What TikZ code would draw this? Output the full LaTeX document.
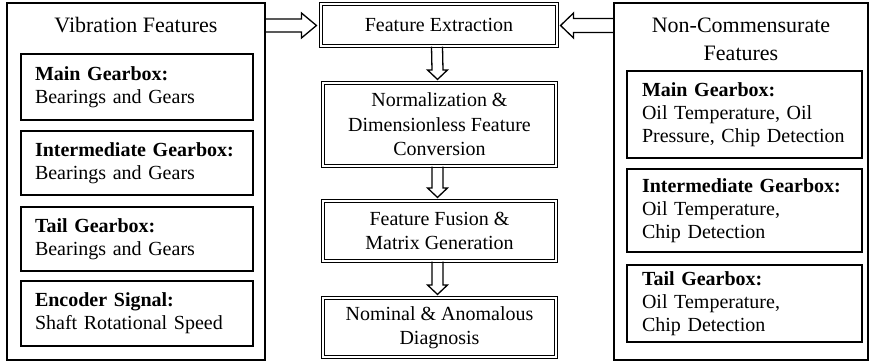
\documentclass[tikz,border=0pt]{standalone}
\usepackage{fontspec}
\setmainfont{Liberation Serif}
\usetikzlibrary{calc}
\tikzset{
  outerbox/.style={draw, line width=1.3pt, inner sep=0pt},
  ibox/.style={draw, line width=1.3pt, inner ysep=0pt, align=left,
    font=\fontsize{20}{23}\selectfont},
  dbox/.style={draw, double, double distance=2.2pt, line width=1.1pt,
    inner sep=0pt, align=center, font=\fontsize{20}{24.5}\selectfont},
  head/.style={align=center, font=\fontsize{22}{28}\selectfont, inner sep=0pt},
  blk/.style={draw, line width=1.3pt, line join=miter},
}
\begin{document}
\begin{tikzpicture}[x=1pt,y=-1pt]
\useasboundingbox (0,0) rectangle (871,361);
% outer boxes
\node[outerbox, minimum width=258, minimum height=357] (vib) at (136,181.5) {};
\node[outerbox, minimum width=254, minimum height=357] (ncf) at (741,181.5) {};
\node[head] (vibt) at (136,25) {Vibration Features};
\node[head] (ncft) at (741,39) {Non-Commensurate\\Features};
% left inner boxes
\node[ibox, text width=204, inner xsep=14, minimum height=66] (lmg) at (137,87)
  {\textbf{Main Gearbox:}\\Bearings and Gears};
\node[ibox, text width=204, inner xsep=14, minimum height=64] (lig) at (137,163)
  {\textbf{Intermediate Gearbox:}\\Bearings and Gears};
\node[ibox, text width=204, inner xsep=14, minimum height=64] (ltg) at (137,239)
  {\textbf{Tail Gearbox:}\\Bearings and Gears};
\node[ibox, text width=204, inner xsep=14, minimum height=65] (les) at (137,313.5)
  {\textbf{Encoder Signal:}\\Shaft Rotational Speed};
% right inner boxes
\node[ibox, text width=205, inner xsep=15, minimum height=87] (rmg) at (744.5,114.5)
  {\textbf{Main Gearbox:}\\Oil Temperature, Oil\\Pressure, Chip Detection};
\node[ibox, text width=205, inner xsep=15, minimum height=83] (rig) at (744.5,210.5)
  {\textbf{Intermediate Gearbox:}\\Oil Temperature,\\Chip Detection};
\node[ibox, text width=205, inner xsep=15, minimum height=77] (rtg) at (744.5,303.5)
  {\textbf{Tail Gearbox:}\\Oil Temperature,\\Chip Detection};
% center boxes
\node[dbox, minimum width=236, minimum height=42] (fe) at (439,25) {Feature Extraction};
\node[dbox, minimum width=233, minimum height=83] (nd) at (439.5,124.5)
  {Normalization \&\\Dimensionless Feature\\Conversion};
\node[dbox, minimum width=233, minimum height=60] (ff) at (439.5,231)
  {Feature Fusion \&\\Matrix Generation};
\node[dbox, minimum width=233, minimum height=59] (na) at (439.5,327.5)
  {Nominal \& Anomalous\\Diagnosis};
% horizontal block arrows
\coordinate (lt) at ($(fe.west)+(-4,0.5)$);
\draw[blk] ($(vib.east|-lt)+(0,-6.5)$) -- ($(lt)+(-15,-6.5)$) -- ($(lt)+(-15,-12.5)$)
  -- (lt) -- ($(lt)+(-15,12.5)$) -- ($(lt)+(-15,6.5)$) -- ($(vib.east|-lt)+(0,6.5)$);
\coordinate (rt) at ($(fe.east)+(3,0.5)$);
\draw[blk] ($(ncf.west|-rt)+(0,-7)$) -- ($(rt)+(13,-7)$) -- ($(rt)+(13,-12.5)$)
  -- (rt) -- ($(rt)+(13,12.5)$) -- ($(rt)+(13,7)$) -- ($(ncf.west|-rt)+(0,7)$);
% vertical block arrows
\foreach \a/\b in {fe/nd, nd/ff, ff/na}{
  \coordinate (tip) at ($(\b.north)+(-2,-3)$);
  \draw[blk] ($(\a.south)+(-7.5,0)$) -- ($(tip)+(-5.5,-9.5)$) -- ($(tip)+(-10,-9.5)$)
    -- (tip) -- ($(tip)+(10,-9.5)$) -- ($(tip)+(5.5,-9.5)$) -- ($(\a.south)+(3.5,0)$);
}
\end{tikzpicture}
\end{document}
